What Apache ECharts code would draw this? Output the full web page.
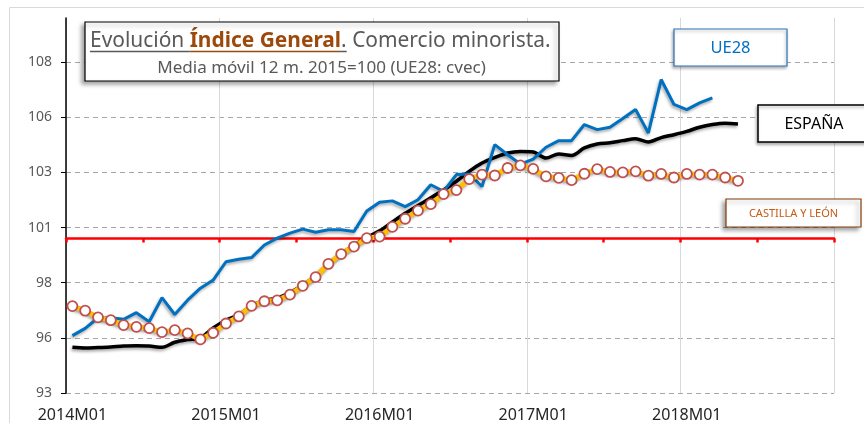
<!DOCTYPE html>
<html>
<head>
<meta charset="utf-8">
<script src="https://cdn.jsdelivr.net/npm/echarts@6/dist/echarts.min.js"></script>
<style>html,body{margin:0;padding:0;background:#fff}#c{width:864px;height:423px}</style>
</head>
<body>
<div id="c"></div>
<script>
// ---------- DATA ----------
const categories = [
  '2014M01','2014M02','2014M03','2014M04','2014M05','2014M06','2014M07','2014M08','2014M09','2014M10','2014M11','2014M12',
  '2015M01','2015M02','2015M03','2015M04','2015M05','2015M06','2015M07','2015M08','2015M09','2015M10','2015M11','2015M12',
  '2016M01','2016M02','2016M03','2016M04','2016M05','2016M06','2016M07','2016M08','2016M09','2016M10','2016M11','2016M12',
  '2017M01','2017M02','2017M03','2017M04','2017M05','2017M06','2017M07','2017M08','2017M09','2017M10','2017M11','2017M12',
  '2018M01','2018M02','2018M03','2018M04','2018M05','2018M06','2018M07','2018M08','2018M09','2018M10','2018M11','2018M12'
];
const espana = [
  95.07, 95.04, 95.06, 95.08, 95.13, 95.14, 95.13, 95.07, 95.30, 95.42,
  95.50, 95.95, 96.30, 96.55, 96.95, 97.20, 97.30, 97.55, 97.90, 98.30,
  98.85, 99.30, 99.70, 100.05, 100.35, 100.75, 101.15, 101.50, 101.85, 102.20,
  102.60, 103.05, 103.43, 103.68, 103.88, 103.95, 103.93, 103.65, 103.84, 103.77,
  104.11, 104.29, 104.34, 104.44, 104.53, 104.38, 104.58, 104.71, 104.86, 105.05,
  105.17, 105.23, 105.20
];
const ue28 = [
  95.60, 95.93, 96.41, 96.41, 96.34, 96.64, 96.23, 97.32, 96.56, 97.21,
  97.75, 98.12, 98.95, 99.06, 99.14, 99.71, 100.02, 100.25, 100.43, 100.29,
  100.40, 100.40, 100.32, 101.25, 101.65, 101.71, 101.45, 101.76, 102.44, 102.14,
  102.90, 102.93, 102.36, 104.26, 103.80, 103.38, 103.60, 104.14, 104.44, 104.44,
  105.17, 104.94, 105.05, 105.44, 105.85, 104.79, 107.21, 106.08, 105.85, 106.15,
  106.38
];
const castillaLeon = [
  96.94, 96.73, 96.43, 96.30, 96.08, 96.00, 95.94, 95.76, 95.85, 95.70,
  95.43, 95.73, 96.15, 96.47, 96.95, 97.16, 97.20, 97.46, 97.86, 98.25,
  98.85, 99.30, 99.64, 100.02, 100.09, 100.53, 100.90, 101.27, 101.56, 102.02,
  102.20, 102.70, 102.90, 102.86, 103.20, 103.32, 103.16, 102.82, 102.75, 102.65,
  102.94, 103.15, 103.02, 103.00, 103.05, 102.85, 102.93, 102.77, 102.93, 102.90,
  102.90, 102.77, 102.62
];
const yMin = 93, yMax = 110, yStep = 2.5;
const yTickValues = [93, 95.5, 98, 100.5, 103, 105.5, 108];
const baseValue = 100; // 2015 = 100
const titleParts = ['Evolución ', 'Índice General', '.', ' Comercio minorista.'];
const subtitle = 'Media móvil 12 m. 2015=100 (UE28: cvec)';
const seriesNames = ['ESPAÑA', 'UE28', 'CASTILLA Y LEÓN'];

// ---------- RENDER ----------
const FAM = 'Noto Sans';
const FONTFAM = "'Noto Sans', 'Open Sans', sans-serif";
const mctx = document.createElement('canvas').getContext('2d');
function mw(t, size, weight) { mctx.font = (weight || 'normal') + ' ' + size + "px '" + FAM + "'"; return mctx.measureText(t).width; }

const G = { left: 66, right: 30, top: 18, bottom: 30 };
const gridH = 423 - G.top - G.bottom;
const baseOffset = -(baseValue - yMin) / (yMax - yMin) * gridH;

// fit title to target width
const tW = 461, tX0 = 90;
const w20 = mw(titleParts[0], 20) + mw(titleParts[1], 20, 'bold') + mw(titleParts[2], 20) + mw(titleParts[3], 20);
const ts = 20 * tW / w20;
const px = [tX0];
px.push(px[0] + mw(titleParts[0], ts));
px.push(px[1] + mw(titleParts[1], ts, 'bold'));
px.push(px[2] + mw(titleParts[2], ts));
const ulEnd = px[3];
const sW = 329;
const ss = 16 * sW / mw(subtitle, 16);

const GRAY = '#595959', BROWN = '#9c4a0c';
function tx(text, x, y, size, fill, weight, align) {
  return { type: 'text', silent: true, z: 100, style: { text: text, x: x, y: y, fill: fill,
    font: (weight || 'normal') + ' ' + size + 'px ' + FONTFAM, textAlign: align || 'left', textVerticalAlign: 'middle' } };
}
const shadow = { shadowBlur: 4, shadowOffsetX: -3, shadowOffsetY: 3, shadowColor: 'rgba(0,0,0,0.35)' };
const smallShadow = { shadowBlur: 3, shadowOffsetX: -1, shadowOffsetY: 2, shadowColor: 'rgba(0,0,0,0.3)' };

const graphic = [
  { type: 'rect', silent: true, z: 1, shape: { x: 9.5, y: 7.5, width: 870, height: 430 }, style: { fill: 'none', stroke: '#d9d9d9', lineWidth: 1 } },
  { type: 'rect', silent: true, z: 99, shape: { x: 85, y: 22, width: 474, height: 59 }, style: Object.assign({ fill: '#fff', stroke: '#000', lineWidth: 1.2 }, shadow) },
  tx(titleParts[0], px[0], 41.5, ts, GRAY),
  tx(titleParts[1], px[1], 41.5, ts, BROWN, 'bold'),
  tx(titleParts[2], px[2], 41.5, ts, GRAY),
  tx(titleParts[3], px[3], 41.5, ts, GRAY),
  { type: 'line', silent: true, z: 100, shape: { x1: px[0], y1: 51.5, x2: px[1], y2: 51.5 }, style: { stroke: GRAY, lineWidth: 1.5 } },
  { type: 'line', silent: true, z: 100, shape: { x1: px[1], y1: 51.5, x2: px[2], y2: 51.5 }, style: { stroke: BROWN, lineWidth: 1.5 } },
  { type: 'line', silent: true, z: 100, shape: { x1: px[2], y1: 51.5, x2: ulEnd, y2: 51.5 }, style: { stroke: GRAY, lineWidth: 1.5 } },
  tx(subtitle, 321.5, 68, ss, GRAY, 'normal', 'center'),
  { type: 'rect', silent: true, z: 99, shape: { x: 674, y: 29, width: 113, height: 37 }, style: Object.assign({ fill: '#fff', stroke: '#2e75b6', lineWidth: 1.2 }, smallShadow) },
  tx(seriesNames[1], 730.5, 48, 16.5, '#0070c0', 'normal', 'center'),
  { type: 'rect', silent: true, z: 99, shape: { x: 758, y: 105, width: 112, height: 37 }, style: Object.assign({ fill: '#fff', stroke: '#000', lineWidth: 1.5 }, smallShadow) },
  tx(seriesNames[0], 814, 124, 16, '#000', 'normal', 'center'),
  { type: 'rect', silent: true, z: 99, shape: { x: 726, y: 199, width: 135, height: 28 }, style: Object.assign({ fill: '#fff', stroke: '#843c0c', lineWidth: 1.2 }, shadow) },
  tx(seriesNames[2], 793.5, 214, 11, '#c55a11', 'normal', 'center')
];

const lineShadow = { shadowBlur: 3, shadowOffsetX: -1, shadowOffsetY: 2, shadowColor: 'rgba(0,0,0,0.35)' };

const option = {
  animation: false,
  backgroundColor: '#fff',
  grid: { left: G.left, right: G.right, top: G.top, bottom: G.bottom, containLabel: false },
  xAxis: [
    {
      type: 'category', data: categories, boundaryGap: true,
      axisLine: { show: false }, axisTick: { show: false },
      axisLabel: { interval: 11, color: '#262626', fontSize: 16, fontFamily: FONTFAM, margin: 14 },
      splitLine: { show: true, interval: 11, lineStyle: { color: '#d9d9d9', width: 1 } }
    },
    {
      type: 'category', data: categories, boundaryGap: true, position: 'bottom', offset: baseOffset,
      axisLine: { show: true, onZero: false, lineStyle: { color: '#ff0000', width: 2.5 } },
      axisTick: { show: true, interval: 5, length: 4, lineStyle: { color: '#ff0000', width: 2.5 } },
      axisLabel: { show: true, interval: 5, formatter: function () { return ''; } },
      splitLine: { show: false }
    }
  ],
  yAxis: [
    {
      type: 'value', min: yMin, max: yMax, interval: yStep,
      axisLine: { show: true, lineStyle: { color: '#000', width: 1.5 } },
      axisTick: { show: true, length: 5, lineStyle: { color: '#000', width: 1 }, customValues: yTickValues },
      axisLabel: { color: GRAY, fontSize: 14, fontFamily: FONTFAM, margin: 14,
        customValues: yTickValues, formatter: function (v) { return String(Math.round(v)); } },
      splitLine: { show: true, lineStyle: { color: '#a6a6a6', type: [5, 4], width: 1 } }
    }
  ],
  series: [
    { name: seriesNames[0], type: 'line', data: espana, smooth: 0.3, symbol: 'none', z: 3,
      lineStyle: Object.assign({ color: '#000', width: 3.5 }, lineShadow) },
    { name: seriesNames[1], type: 'line', data: ue28, symbol: 'none', z: 4,
      lineStyle: Object.assign({ color: '#0070c0', width: 3 }, lineShadow) },
    { name: seriesNames[2], type: 'line', data: castillaLeon, symbol: 'circle', symbolSize: 10, showAllSymbol: true, z: 5,
      lineStyle: Object.assign({ color: '#ffc000', width: 5 }, lineShadow),
      itemStyle: { color: '#fff', borderColor: '#c0504d', borderWidth: 1.8 } }
  ],
  graphic: graphic
};
const chart = echarts.init(document.getElementById('c'));
chart.setOption(option);
</script>
</body>
</html>
